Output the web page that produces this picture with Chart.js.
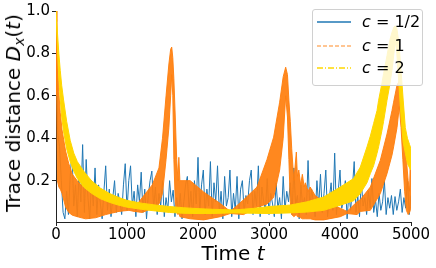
<!DOCTYPE html>
<html>
<head>
<meta charset="utf-8">
<script src="https://cdn.jsdelivr.net/npm/chart.js@4.4.0/dist/chart.umd.min.js"></script>
<style>
  body { margin: 0; background: #fff; }
  #wrap { position: relative; width: 436px; height: 268px; font-family: 'DejaVu Sans', sans-serif; color: #000; }
  #chart { position: absolute; left: 0; top: 0; }
  .title { position: absolute; font-size: 20px; line-height: 20px; white-space: nowrap; }
  .title .sub { font-size: 14px; position: relative; top: 4px; }
  #xtitle { left: 233px; top: 243px; transform: translateX(-50%); }
  #ytitle { left: 14px; top: 113px; transform: translate(-50%, -50%) rotate(-90deg); }
  #legend { position: absolute; left: 312px; top: 9px; width: 109px; height: 75px;
            border: 1px solid #d0d0d0; border-radius: 3px; background: rgba(255,255,255,0.8); }
  .row { position: absolute; left: 0; width: 109px; height: 20px; font-size: 16px; line-height: 20px; }
  .row svg { position: absolute; left: 4px; top: 8px; }
  .row span { position: absolute; left: 49px; white-space: nowrap; }
</style>
</head>
<body>
<div id="wrap">
  <canvas id="chart" width="436" height="268"></canvas>
  <div class="title" id="ytitle">Trace distance <i>D</i><span class="sub"><i>x</i></span>(<i>t</i>)</div>
  <div class="title" id="xtitle">Time <i>t</i></div>
  <div id="legend"></div>
</div>
<script>
// c = 1/2, sampled every 25 time units
const blueStep = 25;
const blueVals = [
  0.95, 0.42, 0.36, 0.2, 0.05, 0.02, 0.15, 0.04, 0.22, 0.34, 0.08, 0.18, 0.03, 0.25, 0.1, 0.37, 0.05, 0.3, 0.12, 0.02,
  0.2, 0.08, 0.26, 0.04, 0.18, 0.09, 0.02, 0.15, 0.27, 0.06, 0.16, 0.03, 0.12, 0.2, 0.05, 0.14, 0.1, 0.04, 0.18, 0.28,
  0.06, 0.2, 0.27, 0.08, 0.15, 0.03, 0.18, 0.1, 0.24, 0.05, 0.16, 0.02, 0.13, 0.2, 0.245, 0.07, 0.17, 0.04, 0.14, 0.08,
  0.2, 0.03, 0.12, 0.06, 0.2, 0.1, 0.155, 0.03, 0.12, 0.05, 0.14, 0.02, 0.1, 0.18, 0.22, 0.06, 0.15, 0.03, 0.2, 0.09,
  0.31, 0.05, 0.18, 0.25, 0.04, 0.16, 0.08, 0.29, 0.03, 0.19, 0.1, 0.27, 0.05, 0.15, 0.02, 0.22, 0.08, 0.12, 0.25, 0.03,
  0.14, 0.06, 0.22, 0.02, 0.16, 0.2, 0.05, 0.13, 0.09, 0.2, 0.25, 0.04, 0.15, 0.08, 0.27, 0.03, 0.17, 0.1, 0.06, 0.21,
  0.04, 0.14, 0.09, 0.03, 0.19, 0.07, 0.12, 0.02, 0.22, 0.06, 0.15, 0.1, 0.19, 0.04, 0.26, 0.08, 0.13, 0.02, 0.18, 0.07,
  0.12, 0.04, 0.295, 0.06, 0.16, 0.1, 0.03, 0.2, 0.08, 0.23, 0.05, 0.14, 0.25, 0.03, 0.12, 0.19, 0.06, 0.33, 0.04, 0.15,
  0.25, 0.07, 0.11, 0.2, 0.02, 0.14, 0.06, 0.17, 0.29, 0.05, 0.13, 0.03, 0.2, 0.08, 0.12, 0.04, 0.15, 0.07, 0.21, 0.05,
  0.11, 0.03, 0.14, 0.06, 0.1, 0.2, 0.04, 0.12, 0.07, 0.13, 0.04, 0.125, 0.06, 0.1, 0.16, 0.05, 0.12, 0.07, 0.21, 0.04,
  0.13
];

// c = 1: fast oscillation, kept as upper / lower envelope
const orangeT  = [0, 10, 20, 40, 60, 85, 135, 180, 230, 320, 417, 558, 700, 887, 1028, 1100, 1215, 1356, 1450, 1500,
                  1550, 1590, 1615, 1630, 1645, 1660, 1680, 1700, 1718, 1730, 1745, 1890, 2079, 2314, 2455, 2643, 2831, 2972, 3065, 3150,
                  3200, 3235, 3260, 3280, 3300, 3320, 3350, 3385, 3400, 3420, 3445, 3470, 3495, 3512, 3550, 3580, 3650, 3770, 4004, 4099,
                  4240, 4286, 4427, 4568, 4662, 4732, 4755, 4803, 4835, 4860, 4885, 4910, 4935, 4960, 4980, 4990, 5000];
const orangeHi = [1.0, 0.95, 0.8, 0.62, 0.52, 0.44, 0.34, 0.28, 0.23, 0.19, 0.16, 0.13, 0.107, 0.09, 0.075, 0.07, 0.12, 0.18, 0.26, 0.4,
                  0.6, 0.75, 0.82, 0.83, 0.78, 0.68, 0.5, 0.3, 0.2, 0.31, 0.2, 0.2, 0.147, 0.092, 0.055, 0.11, 0.17, 0.3, 0.405, 0.57,
                  0.69, 0.735, 0.7, 0.58, 0.48, 0.35, 0.2, 0.335, 0.22, 0.25, 0.18, 0.23, 0.17, 0.19, 0.15, 0.17, 0.13, 0.1, 0.07, 0.055,
                  0.1, 0.11, 0.17, 0.296, 0.42, 0.53, 0.57, 0.65, 0.67, 0.64, 0.55, 0.42, 0.3, 0.2, 0.15, 0.3, 0.34];
const orangeLo = [1.0, 0.6, 0.2, 0.17, 0.16, 0.14, 0.075, 0.05, 0.037, 0.028, 0.02, 0.025, 0.04, 0.055, 0.06, 0.055, 0.05, 0.07, 0.09, 0.14,
                  0.3, 0.45, 0.6, 0.7, 0.6, 0.3, 0.1, 0.05, 0.04, 0.05, 0.03, 0.02, 0.015, 0.03, 0.045, 0.04, 0.075, 0.09, 0.12, 0.25,
                  0.4, 0.6, 0.5, 0.3, 0.1, 0.04, 0.03, 0.04, 0.03, 0.03, 0.025, 0.02, 0.02, 0.02, 0.02, 0.02, 0.015, 0.015, 0.03, 0.045,
                  0.04, 0.055, 0.06, 0.139, 0.233, 0.32, 0.359, 0.45, 0.55, 0.45, 0.3, 0.15, 0.06, 0.04, 0.05, 0.06, 0.1];

// c = 2: same envelope idea
const yellowT  = [0, 20, 40, 60, 80, 107, 150, 200, 250, 300, 389, 500, 624, 750, 875, 1000, 1200, 1400, 1600, 1800,
                  2000, 2200, 2400, 2500, 2600, 2800, 3000, 3300, 3535, 3770, 4004, 4192, 4286, 4380, 4427, 4473, 4521, 4544, 4591, 4614,
                  4662, 4700, 4732, 4760, 4779, 4800, 4830, 4860, 4890, 4920, 4950, 4980, 5000];
const yellowHi = [1.0, 0.9, 0.8, 0.72, 0.65, 0.58, 0.48, 0.39, 0.33, 0.29, 0.245, 0.2, 0.165, 0.14, 0.122, 0.107, 0.094, 0.085, 0.078, 0.072,
                  0.068, 0.065, 0.063, 0.062, 0.064, 0.07, 0.078, 0.085, 0.1, 0.123, 0.17, 0.21, 0.264, 0.359, 0.41, 0.469, 0.53, 0.579, 0.66, 0.705,
                  0.79, 0.86, 0.9, 0.925, 0.93, 0.92, 0.85, 0.72, 0.58, 0.45, 0.4, 0.37, 0.35];
const yellowLo = [1.0, 0.82, 0.68, 0.58, 0.5, 0.43, 0.35, 0.29, 0.245, 0.21, 0.17, 0.14, 0.115, 0.098, 0.085, 0.075, 0.065, 0.057, 0.05, 0.046,
                  0.045, 0.045, 0.047, 0.048, 0.047, 0.046, 0.045, 0.048, 0.052, 0.06, 0.084, 0.105, 0.139, 0.19, 0.233, 0.27, 0.328, 0.36, 0.437, 0.48,
                  0.579, 0.65, 0.72, 0.8, 0.86, 0.8, 0.65, 0.5, 0.38, 0.33, 0.28, 0.26, 0.25];

const xTicks = [0, 1000, 2000, 3000, 4000, 5000];
const yTicks = [0.2, 0.4, 0.6, 0.8, 1.0];

const legendItems = [
  { name: '1/2', color: '#1f77b4', dash: '', opacity: 1 },
  { name: '1', color: '#ff7f0e', dash: '4,2', opacity: 0.6 },
  { name: '2', color: '#ffd700', dash: '6,2,1,2', opacity: 1 }
];

function pts(ts, vs) {
  return ts.map((t, i) => ({ x: t, y: vs[i] }));
}

const bluePts = blueVals.map((v, i) => ({ x: i * blueStep, y: v }));
const tickFont = { family: 'DejaVu Sans', size: 15, lineHeight: 1 };
const orangeFill = 'rgba(255,127,14,0.93)';

// first dataset is drawn last (on top)
new Chart(document.getElementById('chart'), {
  type: 'line',
  data: {
    datasets: [
      { data: pts(yellowT, yellowHi), borderColor: '#ffd700', backgroundColor: '#ffd700', borderWidth: 1, fill: '+1', pointRadius: 0 },
      { data: pts(yellowT, yellowLo), borderColor: '#ffd700', borderWidth: 1, fill: false, pointRadius: 0 },
      { data: pts(orangeT, orangeHi), borderColor: orangeFill, backgroundColor: orangeFill, borderWidth: 1, fill: '+1', pointRadius: 0 },
      { data: pts(orangeT, orangeLo), borderColor: orangeFill, borderWidth: 1, fill: false, pointRadius: 0 },
      { data: bluePts, borderColor: '#1f77b4', borderWidth: 1, fill: false, pointRadius: 0 }
    ]
  },
  options: {
    responsive: false,
    animation: false,
    layout: { padding: { top: 11, right: 25, left: 0, bottom: 0 } },
    plugins: { legend: { display: false }, tooltip: { enabled: false } },
    scales: {
      x: {
        type: 'linear', min: 0, max: 5000,
        afterBuildTicks: s => { s.ticks = xTicks.map(v => ({ value: v })); },
        afterFit: s => { s.height = 46; },
        ticks: { font: tickFont, color: '#000', padding: 2, maxRotation: 0, autoSkip: false, callback: v => String(v) },
        grid: { drawOnChartArea: false, tickLength: 4, color: '#222' },
        border: { color: '#222', width: 1 }
      },
      y: {
        type: 'linear', min: 0.005, max: 1.0,
        afterBuildTicks: s => { s.ticks = yTicks.map(v => ({ value: v })); },
        afterFit: s => { s.width = 56; },
        ticks: { font: tickFont, color: '#000', padding: 2, autoSkip: false, callback: v => v.toFixed(1) },
        grid: { drawOnChartArea: false, tickLength: 4, color: '#222' },
        border: { color: '#222', width: 1 }
      }
    }
  }
});

// legend
const legend = document.getElementById('legend');
const rowTops = [2, 26, 48];
legendItems.forEach((it, i) => {
  const row = document.createElement('div');
  row.className = 'row';
  row.style.top = rowTops[i] + 'px';
  row.innerHTML =
    '<svg width="34" height="4"><line x1="0" y1="2" x2="34" y2="2" stroke="' + it.color +
    '" stroke-width="1.5" stroke-opacity="' + it.opacity + '"' +
    (it.dash ? ' stroke-dasharray="' + it.dash + '"' : '') + '/></svg>' +
    '<span><i>c</i> = ' + it.name + '</span>';
  legend.appendChild(row);
});
</script>
</body>
</html>
